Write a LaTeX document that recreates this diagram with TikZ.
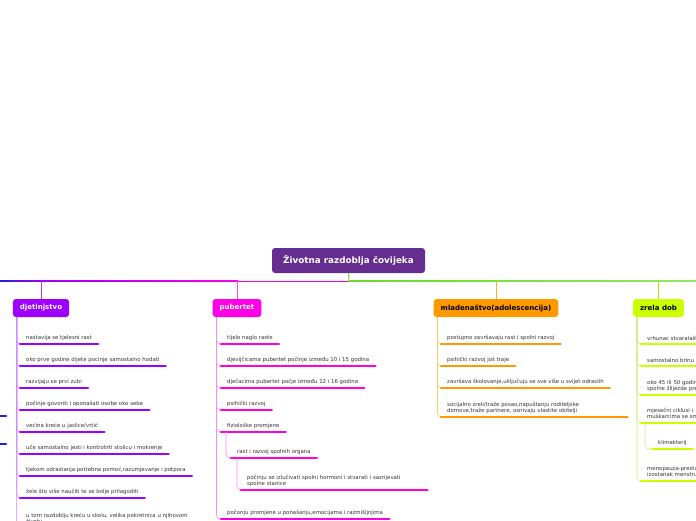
\documentclass[tikz,border=0pt]{standalone}
\usepackage{fontspec}
\setmainfont{DejaVu Sans}
\usepackage{tikz}
\usetikzlibrary{calc,positioning}
\definecolor{rootc}{HTML}{662D91}
\definecolor{djc}{HTML}{9E00FF}
\definecolor{pbc}{HTML}{FF00E6}
\definecolor{mlc}{HTML}{FF9900}
\definecolor{zrc}{HTML}{CCFF00}
\definecolor{txtc}{HTML}{333333}
\definecolor{offl}{HTML}{2020DD}
\definecolor{offr}{HTML}{66DD22}
\tikzset{
  topic/.style={rounded corners=3pt,font=\fontsize{7}{8}\selectfont\bfseries,minimum height=18pt,inner xsep=7pt,inner ysep=0pt},
  leaf/.style={anchor=south west,font=\fontsize{5.4}{6.4}\selectfont,text=txtc,align=left,inner xsep=6pt,inner ysep=3pt},
  wideleaf/.style={leaf,text width=174pt},
  bar/.style={line width=2.8pt,line cap=round},
  twig/.style={line width=0.6pt,rounded corners=4pt}
}

\begin{document}
\begin{tikzpicture}[x=1pt,y=-1pt]
\useasboundingbox (0,0) rectangle (696,520);
\clip (0,0) rectangle (696,520);
% root and main line
\node[topic,fill=rootc,text=white,font=\fontsize{8.8}{10}\selectfont\bfseries,minimum width=153pt,minimum height=25pt] (root) at (348.5,260.5) {Životna razdoblja čovijeka};
\coordinate (hub) at (349,281);
\shade[left color=offl,right color=djc] (-1,280.5) rectangle (41,281.5);
\shade[left color=djc,right color=pbc] (41,280.5) rectangle (238,281.5);
\fill[pbc] (238,280.5) rectangle (349,281.5);
\shade[left color=offr,right color=offr!70!white] (349,280.5) rectangle (697,281.5);
\draw[offr,line width=1pt] (root.south) -- (hub);
% main topics
\node[topic,fill=djc,text=white] (djet) at (41,308) {djetinjstvo};
\node[topic,fill=pbc,text=white] (pub) at (237,308) {pubertet};
\node[topic,fill=mlc,text=black] (mlad) at (496,308) {mladenaštvo(adolescencija)};
\node[topic,fill=zrc,text=black] (zrela) at (658.5,308) {zrela dob};
\draw[twig,djc!80] (djet.north |- hub) -- (djet.north);
\draw[twig,pbc!70] (pub.north |- hub) -- (pub.north);
\draw[twig,mlc!80] (mlad.north |- hub) -- (mlad.north);
\draw[twig,zrc!90!black] (zrela.north |- hub) -- (zrela.north);
% branch off the left edge
\draw[bar,offl] (-10,416) -- (6,416);
\draw[bar,offl] (-10,444) -- (6,444);

% djetinjstvo
\node[leaf] (d1) at (20,344) {nastavija se tjelesni rast};
\node[leaf] (d2) at (20,366) {oko prve godine dijete pocinje samostalno hodati};
\node[leaf] (d3) at (20,388) {razvijaju se prvi zubi};
\node[leaf] (d4) at (20,410) {počinje govoriti i oponašati osobe oko sebe};
\node[leaf] (d5) at (20,432) {većina kreće u jaslice/vrtić};
\node[leaf] (d6) at (20,454) {uče samostalno jesti i kontrolirti stolicu i mokrenje};
\node[leaf] (d7) at (20,476) {tjekom odrastanja potrebna pomoć,razumjevanje i potpora};
\node[leaf] (d8) at (20,498) {žele što više naučiti te se bolje prilagoditi};
\node[leaf] (d9) at (20,527) {u tom razdoblju kreću u skolu, velika pokretnica u njihovom\\životu};
\foreach \n in {d1,d2,d3,d4,d5,d6,d7,d8,d9} {
  \draw[twig,djc!45] ($(djet.south west)+(4,0)$) |- (\n.south west);
  \draw[bar,djc] (\n.south west) -- (\n.south east);
}

% pubertet
\node[leaf] (p1) at (221,344) {tijelo naglo raste};
\node[leaf] (p2) at (221,366) {djevijčicama pubertet počinje između 10 i 15 godina};
\node[leaf] (p3) at (221,388) {dječacima pubertet počje između 12 i 16 godina};
\node[leaf] (p4) at (221,410) {psihički razvoj};
\node[leaf] (p5) at (221,432) {fiziološke promjene};
\node[leaf] (p51) at (231,458) {rast i razvoj spolnih organa};
\node[wideleaf] (p511) at (241,490) {počinju se izlučivati spolni hormoni i stvarati i sazrijevati\\spolne stanice};
\node[leaf] (p6) at (221,519) {počonju promjene u ponašanju,emocijama i razmišljnjima};
\foreach \n in {p1,p2,p3,p4,p5,p6} {
  \draw[twig,pbc!45] ($(pub.south west)+(4,0)$) |- (\n.south west);
  \draw[bar,pbc] (\n.south west) -- (\n.south east);
}
\draw[twig,pbc!45] ($(p5.south west)+(5,0)$) |- (p51.south west);
\draw[bar,pbc] (p51.south west) -- (p51.south east);
\draw[twig,pbc!45] ($(p51.south west)+(6,0)$) |- (p511.south west);
\draw[bar,pbc] (p511.south west) -- (p511.south east);

% mladenastvo
\node[leaf] (m1) at (441,344) {postupno završavaju rast i spolni razvoj};
\node[leaf] (m2) at (441,366) {psihički razvoj još traje};
\node[leaf] (m3) at (441,388) {završava školovanje,uključuju se sve više u svijet odraslih};
\node[wideleaf] (m4) at (441,417) {socijalno zreli/traže posao,napuštanju roditeljske\\domove,traže partnere, osnivaju vlastite obitelji};
\foreach \n in {m1,m2,m3,m4} {
  \draw[twig,mlc!55] ($(mlad.south west)+(4,0)$) |- (\n.south west);
  \draw[bar,mlc] (\n.south west) -- (\n.south east);
}

% zrela dob
\node[leaf] (z1) at (641,344) {vrhunac stvaralaštva};
\node[leaf] (z2) at (641,366) {samostalno brinu};
\node[wideleaf] (z3) at (641,395) {oko 45 ili 50 godina\\spolne žlijezde prestaju};
\node[wideleaf] (z4) at (641,423) {mjesečni ciklusi i\\muškarcima se smanjuje};
\node[leaf] (z41) at (652,449) {klimakterij};
\node[wideleaf] (z5) at (641,481) {menopauza-prestanak\\izostanak menstruacije};
\foreach \n in {z1,z2,z3,z4,z5} {
  \draw[twig,zrc!70!gray!60] ($(zrela.south west)+(4,0)$) |- (\n.south west);
  \draw[bar,zrc] (\n.south west) -- (\n.south east);
}
\draw[twig,zrc!70!gray!60] ($(z4.south west)+(4,0)$) |- (z41.south west);
\draw[bar,zrc] (z41.south west) -- (z41.south east);
\end{tikzpicture}
\end{document}
